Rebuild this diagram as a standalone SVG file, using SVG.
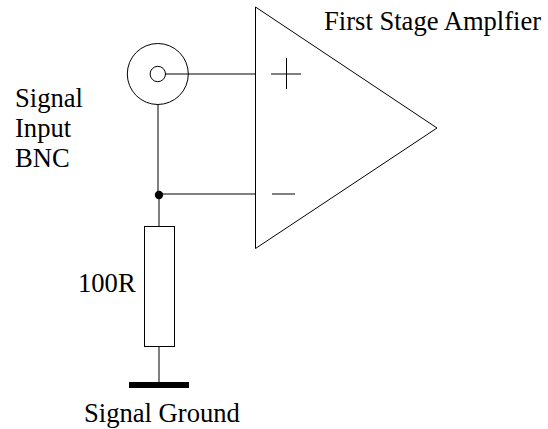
<svg xmlns="http://www.w3.org/2000/svg" width="548" height="429" viewBox="0 0 548 429">
<style>
text{font-family:"Liberation Serif",serif;font-size:26.6px;fill:#000}
.l{fill:none;stroke:#000;stroke-width:1}
</style>
<rect width="548" height="429" fill="#fff"/>
<g id="connectors">
<path class="l" d="M165 74H255.5M158 104V195M159 195V226M159 194H255.5M159 347V382"/>
<circle cx="159" cy="195" r="4.2" fill="#000"/>
</g>
<g id="bnc"><circle class="l" cx="157.8" cy="74" r="30.5"/><circle class="l" cx="157.8" cy="74" r="7.7"/></g>
<g id="amplifier"><path class="l" d="M255.5 7V248.5L437 128Z"/><path class="l" d="M271 74H301M286.5 58V89M272 194H295"/></g>
<g id="resistor"><rect class="l" x="144.5" y="226.5" width="30" height="120"/></g>
<g id="ground"><rect x="129" y="382" width="60" height="6" fill="#000"/></g>
<text x="324" y="30">First Stage Amplfier</text>
<text x="15" y="107">Signal</text><text x="15" y="137">Input</text><text x="15" y="167">BNC</text>
<text x="78" y="292">100R</text>
<text x="84" y="422">Signal Ground</text>
</svg>
